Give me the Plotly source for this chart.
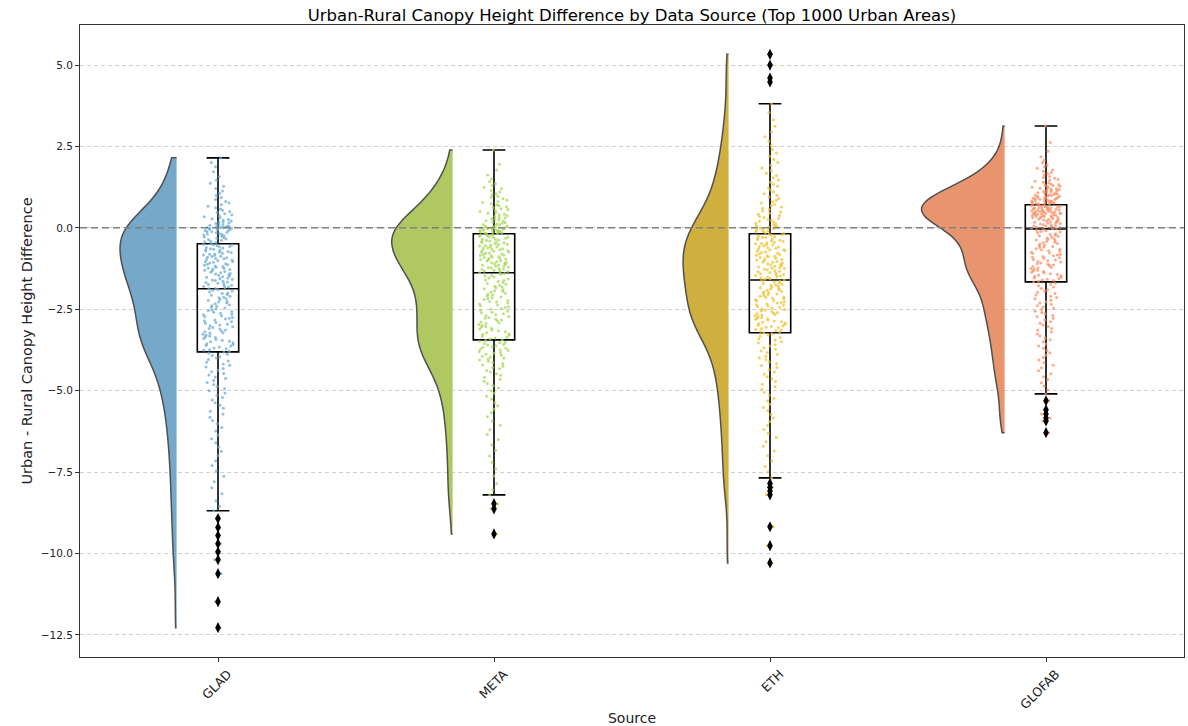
import plotly.graph_objects as go

# ---------------- data ----------------
sources = ["GLAD", "META", "ETH", "GLOFAB"]

glad_values = [
    2.15, 2.01, 1.88, 1.72, 1.58, 1.46, 1.37, 1.28, 1.21, 1.13, 1.06, 0.99, 0.93, 0.87, 0.81, 0.76,
    0.71, 0.66, 0.62, 0.58, 0.54, 0.50, 0.47, 0.43, 0.40, 0.37, 0.34, 0.31, 0.28, 0.26, 0.23, 0.21,
    0.19, 0.17, 0.15, 0.13, 0.11, 0.09, 0.08, 0.06, 0.05, 0.04, 0.03, 0.02, 0.01, 0.00, 0.00, -0.01,
    -0.02, -0.03, -0.04, -0.05, -0.06, -0.08, -0.09, -0.11, -0.12, -0.14, -0.15, -0.17, -0.19, -0.20,
    -0.22, -0.24, -0.26, -0.28, -0.30, -0.32, -0.34, -0.36, -0.38, -0.41, -0.43, -0.45, -0.48,
    -0.50, -0.52, -0.53, -0.55, -0.57, -0.59, -0.60, -0.62, -0.64, -0.66, -0.67, -0.69, -0.71, -0.73,
    -0.74, -0.76, -0.78, -0.80, -0.81, -0.83, -0.85, -0.87, -0.88, -0.90, -0.92, -0.94, -0.95, -0.97,
    -0.99, -1.01, -1.03, -1.04, -1.06, -1.08, -1.10, -1.12, -1.13, -1.15, -1.17, -1.19, -1.21, -1.23,
    -1.24, -1.26, -1.28, -1.30, -1.32, -1.34, -1.36, -1.38, -1.40, -1.42, -1.44, -1.46, -1.48, -1.50,
    -1.52, -1.54, -1.56, -1.58, -1.60, -1.62, -1.64, -1.66, -1.68, -1.70, -1.72, -1.74, -1.76, -1.78,
    -1.80, -1.82, -1.84, -1.86, -1.87,
    -1.89, -1.92, -1.94, -1.97, -2.00, -2.02, -2.05, -2.07, -2.10, -2.13, -2.15, -2.18, -2.20, -2.23,
    -2.26, -2.28, -2.31, -2.33, -2.36, -2.39, -2.41, -2.44, -2.46, -2.49, -2.52, -2.54, -2.57, -2.59,
    -2.62, -2.65, -2.67, -2.70, -2.72, -2.75, -2.78, -2.80, -2.83, -2.85, -2.88, -2.91, -2.93, -2.96,
    -2.98, -3.01, -3.04, -3.06, -3.09, -3.11, -3.14, -3.17, -3.19, -3.22, -3.24, -3.27, -3.30, -3.32,
    -3.35, -3.37, -3.40, -3.43, -3.45, -3.48, -3.50, -3.53, -3.56, -3.58, -3.61, -3.63, -3.66, -3.69,
    -3.71, -3.74, -3.76, -3.79, -3.81,
    -3.84, -3.88, -3.92, -3.96, -4.00, -4.04, -4.09, -4.13, -4.18, -4.22, -4.27, -4.32, -4.37, -4.42,
    -4.47, -4.52, -4.58, -4.63, -4.69, -4.75, -4.81, -4.87, -4.94, -5.00, -5.07, -5.14, -5.21, -5.29,
    -5.37, -5.45, -5.54, -5.63, -5.72, -5.82, -5.92, -6.02, -6.13, -6.24, -6.36, -6.48, -6.60, -6.73,
    -6.86, -7.00, -7.15, -7.30, -7.46, -7.63, -7.80, -7.98, -8.17, -8.38, -8.55, -8.69,
    -8.93, -9.20, -9.45, -9.70, -9.95, -10.19, -10.62, -11.48, -12.28,
]

meta_values = [
    2.39, 1.95, 1.78, 1.62, 1.50, 1.42, 1.36, 1.30, 1.25, 1.20, 1.15, 1.10, 1.05, 1.01, 0.97, 0.93,
    0.89, 0.85, 0.81, 0.78, 0.74, 0.71, 0.68, 0.65, 0.62, 0.59, 0.56, 0.53, 0.50, 0.47, 0.45, 0.42,
    0.40, 0.37, 0.35, 0.32, 0.30, 0.28, 0.26, 0.24, 0.22, 0.20, 0.18, 0.16, 0.14, 0.12, 0.10, 0.09,
    0.07, 0.06, 0.04, 0.03, 0.02, 0.01, 0.00, 0.00, -0.01, -0.02, -0.03, -0.04, -0.05, -0.06, -0.07,
    -0.08, -0.09, -0.10, -0.11, -0.12, -0.13, -0.14, -0.15, -0.16, -0.17,
    -0.19, -0.21, -0.22, -0.24, -0.26, -0.27, -0.29, -0.30, -0.32, -0.34, -0.35, -0.37, -0.38, -0.40,
    -0.42, -0.43, -0.45, -0.46, -0.48, -0.50, -0.51, -0.53, -0.54, -0.56, -0.58, -0.59, -0.61, -0.62,
    -0.64, -0.66, -0.67, -0.69, -0.70, -0.72, -0.74, -0.75, -0.77, -0.78, -0.80, -0.82, -0.83, -0.85,
    -0.86, -0.88, -0.90, -0.91, -0.93, -0.94, -0.96, -0.98, -0.99, -1.01, -1.02, -1.04, -1.06, -1.07,
    -1.09, -1.10, -1.12, -1.14, -1.15, -1.17, -1.18, -1.20, -1.22, -1.23, -1.25, -1.26, -1.28, -1.30,
    -1.31, -1.33, -1.34, -1.36, -1.38,
    -1.40, -1.43, -1.46, -1.48, -1.51, -1.54, -1.57, -1.60, -1.62, -1.65, -1.68, -1.71, -1.73, -1.76,
    -1.79, -1.82, -1.84, -1.87, -1.90, -1.93, -1.95, -1.98, -2.01, -2.04, -2.06, -2.09, -2.12, -2.15,
    -2.17, -2.20, -2.23, -2.26, -2.28, -2.31, -2.34, -2.37, -2.39, -2.42, -2.45, -2.48, -2.50, -2.53,
    -2.56, -2.59, -2.61, -2.64, -2.67, -2.70, -2.72, -2.75, -2.78, -2.81, -2.83, -2.86, -2.89, -2.92,
    -2.94, -2.97, -3.00, -3.03, -3.05, -3.08, -3.11, -3.14, -3.16, -3.19, -3.22, -3.25, -3.27, -3.30,
    -3.33, -3.36, -3.38, -3.41, -3.44,
    -3.46, -3.48, -3.51, -3.53, -3.55, -3.58, -3.60, -3.62, -3.65, -3.67, -3.70, -3.72, -3.75, -3.77,
    -3.80, -3.83, -3.85, -3.88, -3.91, -3.94, -3.97, -4.00, -4.03, -4.06, -4.10, -4.13, -4.17, -4.21,
    -4.25, -4.29, -4.33, -4.38, -4.43, -4.48, -4.53, -4.59, -4.65, -4.71, -4.78, -4.85, -4.92, -5.00,
    -5.08, -5.17, -5.26, -5.36, -5.46, -5.57, -5.68, -5.80, -5.93, -6.06, -6.20, -6.35, -6.50, -6.66,
    -6.83, -7.01, -7.20, -7.40, -7.62, -7.85, -8.05, -8.20,
    -8.47, -8.63, -9.40,
]

eth_values = [
    5.33, 5.00, 4.60, 4.48,
    3.81, 3.55, 3.32, 3.12, 2.95, 2.80, 2.66, 2.53, 2.41, 2.30, 2.20, 2.10, 2.01, 1.92, 1.84, 1.76,
    1.68, 1.61, 1.54, 1.47, 1.40, 1.34, 1.28, 1.22, 1.16, 1.10, 1.05, 1.00, 0.95, 0.90, 0.85, 0.80,
    0.76, 0.72, 0.68, 0.64, 0.60, 0.56, 0.52, 0.49, 0.45, 0.42, 0.38, 0.35, 0.32, 0.29, 0.26, 0.23,
    0.20, 0.17, 0.14, 0.12, 0.09, 0.07, 0.05, 0.03, 0.01, -0.01, -0.03, -0.05, -0.07, -0.09, -0.11,
    -0.13, -0.15, -0.17,
    -0.19, -0.21, -0.23, -0.25, -0.27, -0.29, -0.30, -0.32, -0.34, -0.36, -0.38, -0.40, -0.42, -0.44,
    -0.46, -0.48, -0.49, -0.51, -0.53, -0.55, -0.57, -0.59, -0.61, -0.63, -0.65, -0.67, -0.68, -0.70,
    -0.72, -0.74, -0.76, -0.78, -0.80, -0.82, -0.84, -0.86, -0.87, -0.89, -0.91, -0.93, -0.95, -0.97,
    -0.99, -1.01, -1.03, -1.05, -1.06, -1.08, -1.10, -1.12, -1.14, -1.16, -1.18, -1.20, -1.22, -1.24,
    -1.25, -1.27, -1.29, -1.31, -1.33, -1.35, -1.37, -1.39, -1.41, -1.43, -1.44, -1.46, -1.48, -1.50,
    -1.52, -1.54, -1.56, -1.58, -1.60,
    -1.62, -1.64, -1.66, -1.69, -1.71, -1.73, -1.75, -1.77, -1.79, -1.82, -1.84, -1.86, -1.88, -1.90,
    -1.92, -1.95, -1.97, -1.99, -2.01, -2.03, -2.05, -2.08, -2.10, -2.12, -2.14, -2.16, -2.18, -2.21,
    -2.23, -2.25, -2.27, -2.29, -2.31, -2.34, -2.36, -2.38, -2.40, -2.42, -2.44, -2.47, -2.49, -2.51,
    -2.53, -2.55, -2.57, -2.60, -2.62, -2.64, -2.66, -2.68, -2.70, -2.73, -2.75, -2.77, -2.79, -2.81,
    -2.83, -2.86, -2.88, -2.90, -2.92, -2.94, -2.96, -2.99, -3.01, -3.03, -3.05, -3.07, -3.09, -3.12,
    -3.14, -3.16, -3.18, -3.20, -3.22,
    -3.25, -3.29, -3.33, -3.37, -3.41, -3.45, -3.50, -3.54, -3.59, -3.63, -3.68, -3.73, -3.78, -3.83,
    -3.88, -3.94, -3.99, -4.05, -4.11, -4.17, -4.23, -4.29, -4.36, -4.43, -4.50, -4.57, -4.64, -4.72,
    -4.80, -4.88, -4.96, -5.05, -5.14, -5.23, -5.32, -5.42, -5.52, -5.62, -5.73, -5.84, -5.95, -6.07,
    -6.19, -6.31, -6.44, -6.57, -6.71, -6.85, -7.00, -7.16, -7.33, -7.50, -7.68,
    -7.85, -7.97, -8.08, -8.20, -9.18, -9.76, -10.29,
]

glofab_values = [
    3.13, 2.62, 2.35, 2.18, 2.08, 2.00, 1.94, 1.88, 1.83, 1.78, 1.74, 1.70, 1.66, 1.62, 1.58, 1.55,
    1.52, 1.49, 1.46, 1.43, 1.40, 1.38, 1.35, 1.33, 1.31, 1.30, 1.28, 1.26, 1.25, 1.24, 1.22, 1.20,
    1.19, 1.18, 1.16, 1.15, 1.14, 1.12, 1.11, 1.10, 1.08, 1.07, 1.06, 1.05, 1.03, 1.01, 1.00, 0.99,
    0.98, 0.97, 0.96, 0.95, 0.94, 0.93, 0.92, 0.91, 0.90, 0.89, 0.88, 0.87, 0.86, 0.85, 0.84, 0.83,
    0.82, 0.81, 0.80, 0.79, 0.78, 0.77, 0.76, 0.75, 0.74, 0.73, 0.72,
    0.70, 0.69, 0.68, 0.67, 0.66, 0.65, 0.64, 0.63, 0.62, 0.615, 0.61, 0.60, 0.59, 0.585, 0.58, 0.57,
    0.56, 0.555, 0.55, 0.54, 0.53, 0.52, 0.515, 0.51, 0.50, 0.49, 0.485, 0.48, 0.47, 0.46, 0.455,
    0.45, 0.44, 0.43, 0.425, 0.42, 0.41, 0.40, 0.39, 0.38, 0.37, 0.365, 0.36, 0.35, 0.34, 0.33, 0.32,
    0.31, 0.30, 0.29, 0.27, 0.26, 0.25, 0.24, 0.22, 0.21, 0.20, 0.18, 0.17, 0.16, 0.14, 0.13, 0.12,
    0.10, 0.09, 0.08, 0.06, 0.05, 0.04, 0.02, 0.01, 0.00, -0.01, -0.02, -0.03,
    -0.05, -0.07, -0.09, -0.11, -0.13, -0.15, -0.18, -0.20, -0.22, -0.24, -0.26, -0.28, -0.31, -0.33,
    -0.35, -0.37, -0.39, -0.42, -0.44, -0.46, -0.48, -0.50, -0.53, -0.55, -0.57, -0.59, -0.61, -0.64,
    -0.66, -0.68, -0.70, -0.72, -0.75, -0.77, -0.79, -0.81, -0.83, -0.86, -0.88, -0.90, -0.92, -0.94,
    -0.97, -0.99, -1.01, -1.03, -1.05, -1.08, -1.10, -1.12, -1.14, -1.16, -1.19, -1.21, -1.23, -1.25,
    -1.27, -1.30, -1.32, -1.34, -1.36, -1.38, -1.41, -1.43, -1.45, -1.47, -1.49, -1.52, -1.54, -1.56,
    -1.58, -1.60, -1.62, -1.64, -1.66,
    -1.70, -1.74, -1.78, -1.82, -1.86, -1.90, -1.94, -1.98, -2.02, -2.06, -2.10, -2.14, -2.18, -2.22,
    -2.27, -2.31, -2.35, -2.39, -2.43, -2.47, -2.51, -2.56, -2.60, -2.64, -2.69, -2.73, -2.78, -2.83,
    -2.88, -2.93, -2.98, -3.03, -3.09, -3.14, -3.20, -3.26, -3.32, -3.38, -3.44, -3.50, -3.57, -3.63,
    -3.70, -3.77, -3.84, -3.91, -3.98, -4.06, -4.14, -4.22, -4.30, -4.39, -4.48, -4.57, -4.66, -4.76,
    -4.86, -4.97, -5.10,
    -5.31, -5.59, -5.72, -5.84, -5.93, -6.29,
]

# box statistics
box_q1 = [-3.81, -3.44, -3.22, -1.66]
box_median = [-1.87, -1.38, -1.60, -0.03]
box_q3 = [-0.49, -0.18, -0.18, 0.71]

y_tick_values = [5.0, 2.5, 0.0, -2.5, -5.0, -7.5, -10.0, -12.5]

# ---------------- styling ----------------
violin_colors = ["#75a8c9", "#b0c862", "#cfb03f", "#e8956f"]
point_colors = ["#6baed6", "#a6d854", "#efc22c", "#fc8d62"]
bandwidths = [0.6, 0.55, 0.62, 0.42]
violin_widths = [0.41, 0.44, 0.33, 0.60]   # full width; only the left half is drawn

all_values = [glad_values, meta_values, eth_values, glofab_values]
positions = list(range(len(sources)))

fig = go.Figure()

# half violins (left side, offset)
for i, vals in enumerate(all_values):
    fig.add_trace(go.Violin(
        y=vals, x0=positions[i] - 0.15, side="negative", width=violin_widths[i],
        scalemode="width", spanmode="hard",
        bandwidth=bandwidths[i], points=False,
        fillcolor=violin_colors[i], opacity=1,
        line=dict(color="#505050", width=1.5),
        box_visible=False, meanline_visible=False,
        showlegend=False, hoverinfo="skip",
    ))

# whisker ends / outliers derived from the data and the quartiles
lower_fence, upper_fence, out_x, out_y = [], [], [], []
for i, vals in enumerate(all_values):
    iqr = box_q3[i] - box_q1[i]
    lo, hi = box_q1[i] - 1.5 * iqr, box_q3[i] + 1.5 * iqr
    inside = [v for v in vals if lo <= v <= hi]
    lower_fence.append(min(inside))
    upper_fence.append(max(inside))
    for v in vals:
        if v < lo or v > hi:
            out_x.append(positions[i])
            out_y.append(v)

# box plots
fig.add_trace(go.Box(
    x=positions, q1=box_q1, median=box_median, q3=box_q3,
    lowerfence=lower_fence, upperfence=upper_fence,
    boxpoints=False, width=0.15, whiskerwidth=0.55,
    fillcolor="rgba(0,0,0,0)", line=dict(color="black", width=1.6),
    showlegend=False, hoverinfo="skip",
))

# jittered strip points
for i, vals in enumerate(all_values):
    fig.add_trace(go.Box(
        y=vals, x0=positions[i], boxpoints="all", jitter=1, pointpos=0,
        width=0.11, fillcolor="rgba(0,0,0,0)", line=dict(width=0, color="rgba(0,0,0,0)"),
        marker=dict(color=point_colors[i], size=3, opacity=0.75),
        showlegend=False, hoverinfo="skip",
    ))

# outliers
fig.add_trace(go.Scatter(
    x=out_x, y=out_y, mode="markers",
    marker=dict(symbol="diamond-tall", color="black", size=8),
    showlegend=False, hoverinfo="skip",
))

fig.add_hline(y=0, line=dict(color="#808080", width=1.5, dash="7px,4px"))

fig.update_layout(
    width=1188, height=726,
    margin=dict(l=80, r=4, t=25, b=69, autoexpand=False),
    paper_bgcolor="white", plot_bgcolor="white",
    font=dict(family="DejaVu Sans", color="#222"),
    boxmode="overlay", violinmode="overlay",
    title=dict(
        text="Urban-Rural Canopy Height Difference by Data Source (Top 1000 Urban Areas)",
        x=(80 + 1184) / 2 / 1188, xanchor="center", y=0.979, yanchor="middle",
        font=dict(size=16.5, color="black"),
    ),
    showlegend=False,
)

fig.update_xaxes(
    range=[-0.5, 3.5], tickvals=positions, ticktext=sources, tickangle=-45,
    tickfont=dict(size=12.5, color="#222"), ticklabelshift=10,
    ticks="outside", ticklen=4, tickcolor="#333",
    showline=True, linecolor="#333", linewidth=1, mirror=True,
    showgrid=False, zeroline=False, automargin=False,
    title=dict(text="Source", font=dict(size=14, color="#222"), standoff=2),
)

fig.update_yaxes(
    range=[-13.18, 6.23], tickvals=y_tick_values, tickformat=".1f",
    tickfont=dict(size=10.5, color="#222"),
    ticks="outside", ticklen=4, tickcolor="#333",
    showline=True, linecolor="#333", linewidth=1, mirror=True,
    showgrid=True, gridcolor="#d0d0d0", gridwidth=0.8, griddash="4px,3px",
    zeroline=False, automargin=False,
    title=dict(text="Urban - Rural Canopy Height Difference", font=dict(size=14.5, color="#222"), standoff=4),
)

fig.write_html("out.html", config={"displayModeBar": False},
               post_script="document.body.style.margin='0px';")
